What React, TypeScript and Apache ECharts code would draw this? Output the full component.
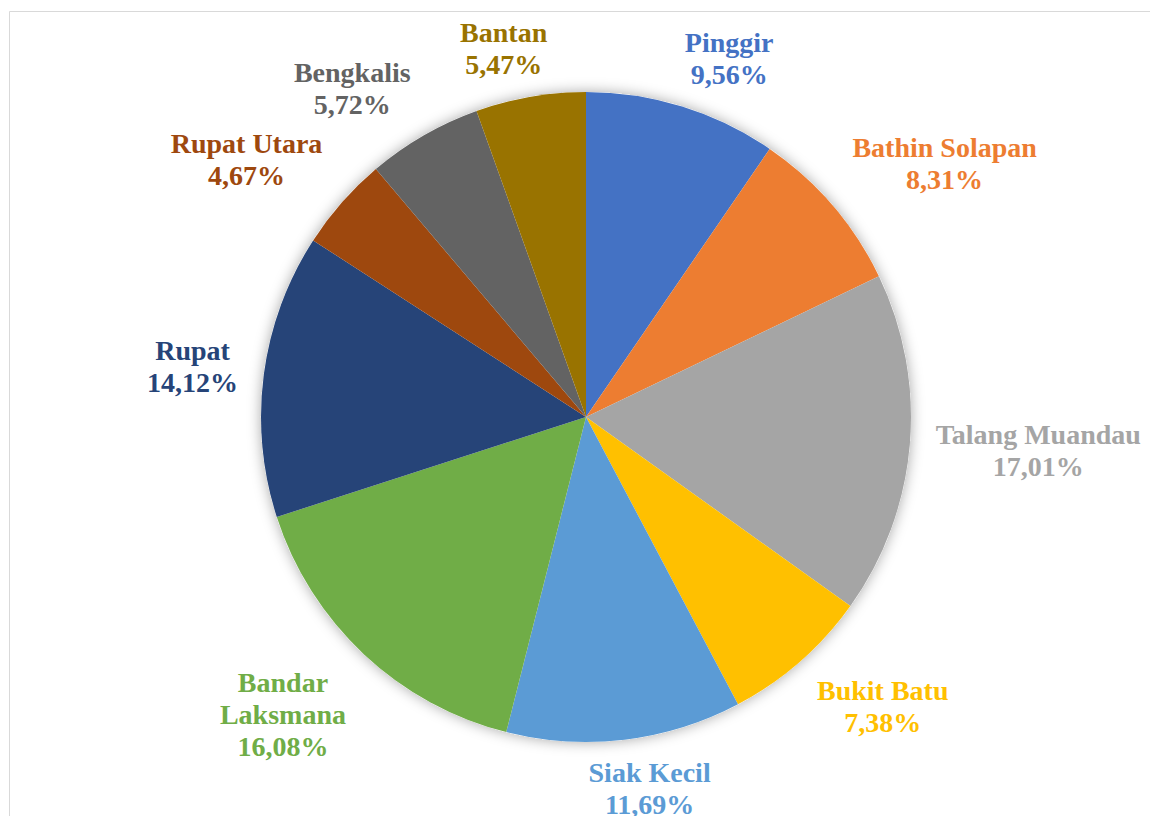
import React, { useEffect, useRef } from "react";
import * as echarts from "echarts";

const names = [
  "Pinggir",
  "Bathin Solapan",
  "Talang Muandau",
  "Bukit Batu",
  "Siak Kecil",
  "Bandar Laksmana",
  "Rupat",
  "Rupat Utara",
  "Bengkalis",
  "Bantan",
];
const shares = [9.56, 8.31, 17.01, 7.38, 11.69, 16.08, 14.12, 4.67, 5.72, 5.47];
const colors = [
  "#4472C4",
  "#ED7D31",
  "#A5A5A5",
  "#FFC000",
  "#5B9BD5",
  "#70AD47",
  "#264478",
  "#9E480E",
  "#636363",
  "#997300",
];
const wrappedNames = ["Bandar Laksmana"];

const CX = 586;
const CY = 417;
const R = 325;
const GAP_X = 26;
const GAP_Y = 17;

const clamp = (v: number) => Math.max(-1, Math.min(1, v));

export default function App() {
  const ref = useRef<HTMLDivElement>(null);
  useEffect(() => {
    if (!ref.current) return;
    const chart = echarts.init(ref.current, null, { renderer: "svg" });
    const total = shares.reduce((a, b) => a + b, 0);
    const cum: number[] = [];
    let acc = 0;
    shares.forEach((s) => {
      cum.push(acc);
      acc += s;
    });
    const font = "'Liberation Serif', 'DejaVu Serif', serif";
    chart.setOption({
      animation: false,
      backgroundColor: "#ffffff",
      graphic: [
        {
          type: "rect",
          shape: { x: 9.5, y: 11.5, width: 1300, height: 1000 },
          style: { fill: "none", stroke: "#d9d9d9", lineWidth: 1 },
          silent: true,
          z: -10,
        },
      ],
      series: [
        {
          type: "pie",
          center: [CX, CY],
          radius: R,
          silent: true,
          z: 1,
          label: { show: false },
          labelLine: { show: false },
          itemStyle: {
            color: "#ffffff",
            shadowBlur: 14,
            shadowColor: "rgba(0,0,0,0.35)",
          },
          data: [{ name: "", value: 1 }],
        },
        {
          type: "pie",
          center: [CX, CY],
          radius: R,
          startAngle: 90,
          clockwise: true,
          z: 2,
          itemStyle: { borderWidth: 0 },
          labelLine: { show: false },
          label: {
            show: true,
            position: "outside",
            alignTo: "none",
            overflow: "none",
            edgeDistance: 0,
            fontFamily: font,
            fontWeight: "bold",
            fontSize: 28,
            lineHeight: 32,
            align: "center",
            color: "inherit",
            formatter: (p: any) => {
              const nm = wrappedNames.includes(p.name)
                ? p.name.replace(" ", "\n")
                : p.name;
              return nm + "\n" + Number(p.value).toFixed(2).replace(".", ",") + "%";
            },
          },
          labelLayout: (params: any) => {
            const i = params.dataIndex;
            const mid = ((cum[i] + shares[i] / 2) / total) * Math.PI * 2;
            const ux = Math.sin(mid);
            const uy = -Math.cos(mid);
            const px = CX + (R + GAP_X) * ux;
            const py = CY + (R + GAP_Y) * uy;
            const w = params.labelRect.width;
            const h = params.labelRect.height;
            return {
              x: px + clamp(ux * 3) * (w / 2),
              y: py + clamp(uy * 1.5) * (h / 2),
              align: "center",
              verticalAlign: "middle",
            };
          },
          data: names.map((n, i) => ({
            name: n,
            value: shares[i],
            itemStyle: { color: colors[i] },
            label: { color: colors[i] },
          })),
        },
      ],
    });
    return () => chart.dispose();
  }, []);
  return (
    <div
      ref={ref}
      style={{ position: "absolute", left: 0, top: 0, width: 1150, height: 816 }}
    />
  );
}
